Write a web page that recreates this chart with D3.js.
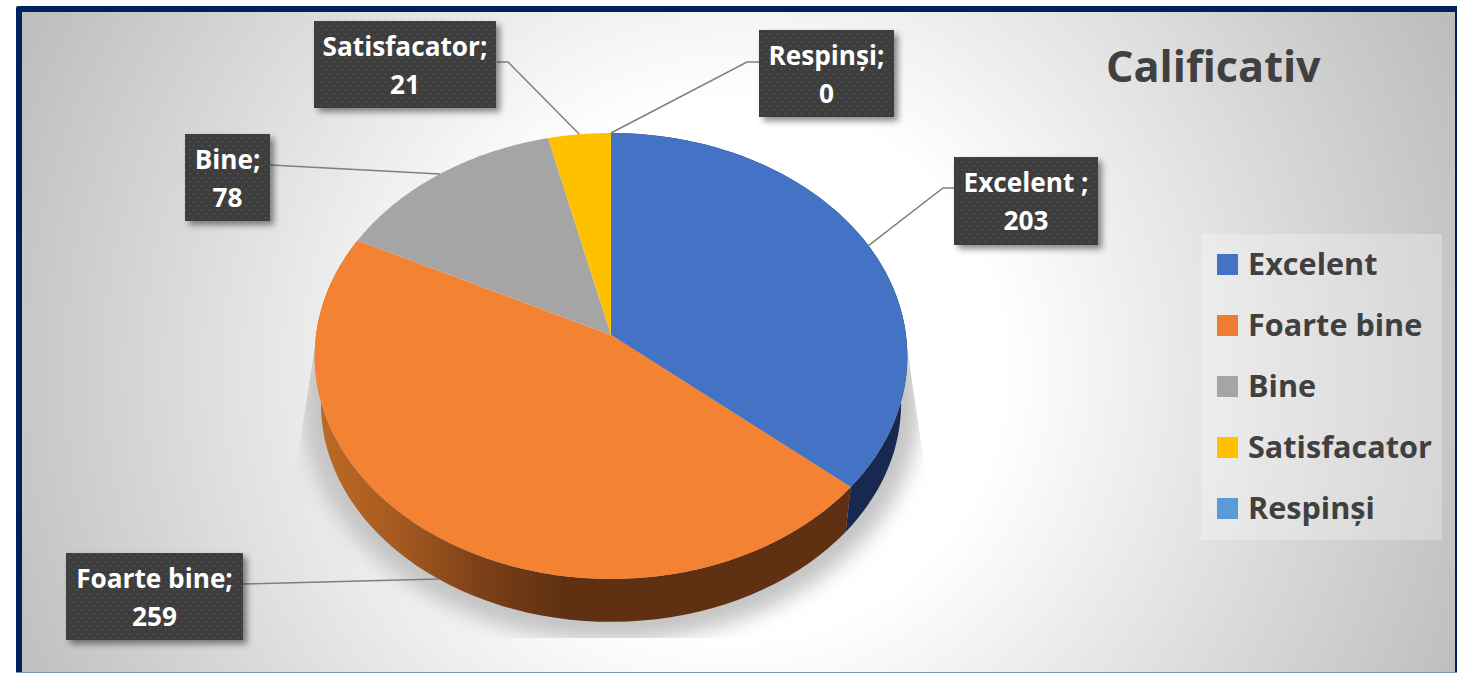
<!DOCTYPE html>
<html><head><meta charset="utf-8">
<script src="https://cdn.jsdelivr.net/npm/d3@7"></script>
<style>html,body{margin:0;padding:0;background:#fff;overflow:hidden}svg{display:block}text{font-family:"Open Sans","Noto Sans",sans-serif;font-weight:700}</style>
</head><body><svg id="c" width="1457" height="673"></svg>
<script>
const chartTitle = "Calificativ";
const categories = ["Excelent","Foarte bine","Bine","Satisfacator","Respinși"];
const values = [203,259,78,21,0];
const labelNames = ["Excelent ;","Foarte bine;","Bine;","Satisfacator;","Respinși;"];
const topColors = ["#4472c4","#f48233","#a5a5a5","#ffc000","#5b9bd5"];
const legendColors = ["#4472c4","#ed7d31","#a5a5a5","#ffc000","#5b9bd5"];

// layout of label boxes: [x, y, w, h], elbow point or null, whether the leader attaches to the lower rim
const labelBoxes = [[954,157,144,88],[66,553,177,87],[185,134,85,87],[314,21,182,87],[759,30,135,87]];
const labelElbows = [[943,188],null,null,[508,62],[747,62]];
const labelExit = [[954,188],[243,584],[270,165],[497,62],[759,62]];
const rimAttach = [false,true,false,false,false];

const W=1457,H=673;
const svg=d3.select("#c");
const defs=svg.append("defs");

// background
const bg=defs.append("radialGradient").attr("id","bg").attr("gradientUnits","userSpaceOnUse")
 .attr("cx",735).attr("cy",370).attr("r",790);
[[0,"#fff"],[.34,"#fff"],[1,"#bdbdbd"]].forEach(s=>bg.append("stop").attr("offset",s[0]).attr("stop-color",s[1]));
// wall shading
const wg=defs.append("linearGradient").attr("id","wallO").attr("gradientUnits","userSpaceOnUse")
 .attr("x1",315).attr("x2",907).attr("y1",0).attr("y2",0);
[[0,"#bd6a24"],[.14,"#a65a20"],[.28,"#7c4018"],[.42,"#5f3012"],[1,"#5f3012"]].forEach(s=>wg.append("stop").attr("offset",s[0]).attr("stop-color",s[1]));
const pat=defs.append("pattern").attr("id","dots").attr("patternUnits","userSpaceOnUse").attr("width",8).attr("height",8);
pat.append("rect").attr("width",8).attr("height",8).attr("fill","#3e3e3e");
[[1,1],[5,5]].forEach(p=>pat.append("rect").attr("x",p[0]).attr("y",p[1]).attr("width",1.4).attr("height",1.4).attr("fill","#565656"));
const blur=defs.append("filter").attr("id","blur").attr("x","-20%").attr("y","-20%").attr("width","140%").attr("height","140%");
blur.append("feGaussianBlur").attr("stdDeviation",10);
const bs=defs.append("filter").attr("id","boxShadow").attr("x","-20%").attr("y","-20%").attr("width","150%").attr("height","150%");
bs.append("feDropShadow").attr("dx",4).attr("dy",4).attr("stdDeviation",3).attr("flood-color","#000").attr("flood-opacity",.45);
const ls=defs.append("filter").attr("id","lineShadow").attr("x","-50%").attr("y","-50%").attr("width","200%").attr("height","200%");
ls.append("feDropShadow").attr("dx",2).attr("dy",2).attr("stdDeviation",2).attr("flood-color","#000").attr("flood-opacity",.3);

// stray lines outside the frame
svg.append("line").attr("x1",180.5).attr("x2",180.5).attr("y1",0).attr("y2",7).attr("stroke","#222").attr("stroke-width",1.4).attr("filter","url(#lineShadow)");
svg.append("line").attr("x1",0).attr("x2",17).attr("y1",182.5).attr("y2",182.5).attr("stroke","#222").attr("stroke-width",1.4).attr("filter","url(#lineShadow)");

// frame
svg.append("rect").attr("x",16).attr("y",6).attr("width",W-16+4).attr("height",H).attr("rx",2).attr("fill","#002060");
svg.append("rect").attr("x",22).attr("y",12).attr("width",1433-0).attr("height",660).attr("fill","url(#bg)");
svg.append("rect").attr("x",16).attr("y",672).attr("width",1441).attr("height",1).attr("fill","#8497b0");

// projection of the tilted disc
const cx=611, cy=335, p=0.0942;
const sx=d3.scaleLinear().domain([-1,1]).range([cx-295,cx+295]);
const sy=d3.scaleLinear().domain([-1,1]).range([cy-221,cy+221]);
const rimScale=0.979, rimDrop=48;
function proj(a,rim){
  const u=Math.sin(a), v=-Math.cos(a), d=1-p*v;
  let X=sx(u/d)-cx, Y=sy(v/d)-cy;
  if(rim){X*=rimScale;Y=Y*rimScale+rimDrop;}
  return [cx+X,cy+Y];
}
const arcs=d3.pie().sort(null).value(d=>d)(values);
const line=d3.line();
const samples=(a0,a1,rim)=>d3.range(0,65).map(i=>proj(a0+(a1-a0)*i/64,rim));

// cast shadow
const clip=defs.append("clipPath").attr("id","shadowClip");
clip.append("path").attr("d",line([[316,340],[294,480],[294,638],[928,638],[928,490],[906,340]])+"Z");
svg.append("g").attr("clip-path","url(#shadowClip)")
 .append("path").attr("d",line(samples(0,2*Math.PI,true))+"Z")
 .attr("fill","#c4c4c4").attr("stroke","#c4c4c4").attr("stroke-width",38).attr("filter","url(#blur)");

// walls
const wallFill=["#17294f","url(#wallO)",null,null,null];
svg.append("g").selectAll("path").data(arcs.filter((d,i)=>wallFill[i])).join("path")
 .attr("d",d=>line(samples(d.startAngle,d.endAngle,false).concat(samples(d.startAngle,d.endAngle,true).reverse()))+"Z")
 .attr("fill",d=>wallFill[d.index]);

// top face
svg.append("g").selectAll("path").data(arcs).join("path")
 .attr("d",d=>line([[cx,cy]].concat(samples(d.startAngle,d.endAngle,false)))+"Z")
 .attr("fill",d=>topColors[d.index]);

// leader lines
svg.append("g").selectAll("path").data(arcs).join("path")
 .attr("d",d=>{
   const i=d.index, mid=(d.startAngle+d.endAngle)/2;
   const pts=[proj(mid,rimAttach[i])];
   if(labelElbows[i]) pts.push(labelElbows[i]);
   pts.push(labelExit[i]);
   return line(pts);
 }).attr("fill","none").attr("stroke","#7f7f7f").attr("stroke-width",1.5);

// label boxes
const lab=svg.append("g").selectAll("g").data(arcs).join("g");
lab.append("rect")
 .attr("x",d=>labelBoxes[d.index][0]).attr("y",d=>labelBoxes[d.index][1])
 .attr("width",d=>labelBoxes[d.index][2]).attr("height",d=>labelBoxes[d.index][3])
 .attr("fill","url(#dots)").attr("filter","url(#boxShadow)");
lab.append("text").attr("text-anchor","middle").attr("fill","#fff").attr("font-size",26.2)
 .attr("x",d=>labelBoxes[d.index][0]+labelBoxes[d.index][2]/2)
 .attr("y",d=>labelBoxes[d.index][1]+35).text(d=>labelNames[d.index]);
lab.append("text").attr("text-anchor","middle").attr("fill","#fff").attr("font-size",26.2)
 .attr("x",d=>labelBoxes[d.index][0]+labelBoxes[d.index][2]/2)
 .attr("y",d=>labelBoxes[d.index][1]+73).text(d=>d.value);

// title
svg.append("text").attr("x",1106).attr("y",82).attr("font-size",43.2).attr("fill","#404040").text(chartTitle);

// legend
svg.append("rect").attr("x",1201).attr("y",234).attr("width",241).attr("height",306).attr("fill","#fff").attr("opacity",.28);
const ly=d3.scalePoint().domain(categories).range([264.5,508.5]);
const lg=svg.append("g").selectAll("g").data(categories).join("g");
lg.append("rect").attr("x",1217).attr("y",d=>ly(d)-10.5).attr("width",21).attr("height",21).attr("fill",(d,i)=>legendColors[i]);
lg.append("text").attr("x",1248).attr("y",d=>ly(d)+10).attr("font-size",30.6).attr("fill","#404040").text(d=>d);
</script></body></html>
